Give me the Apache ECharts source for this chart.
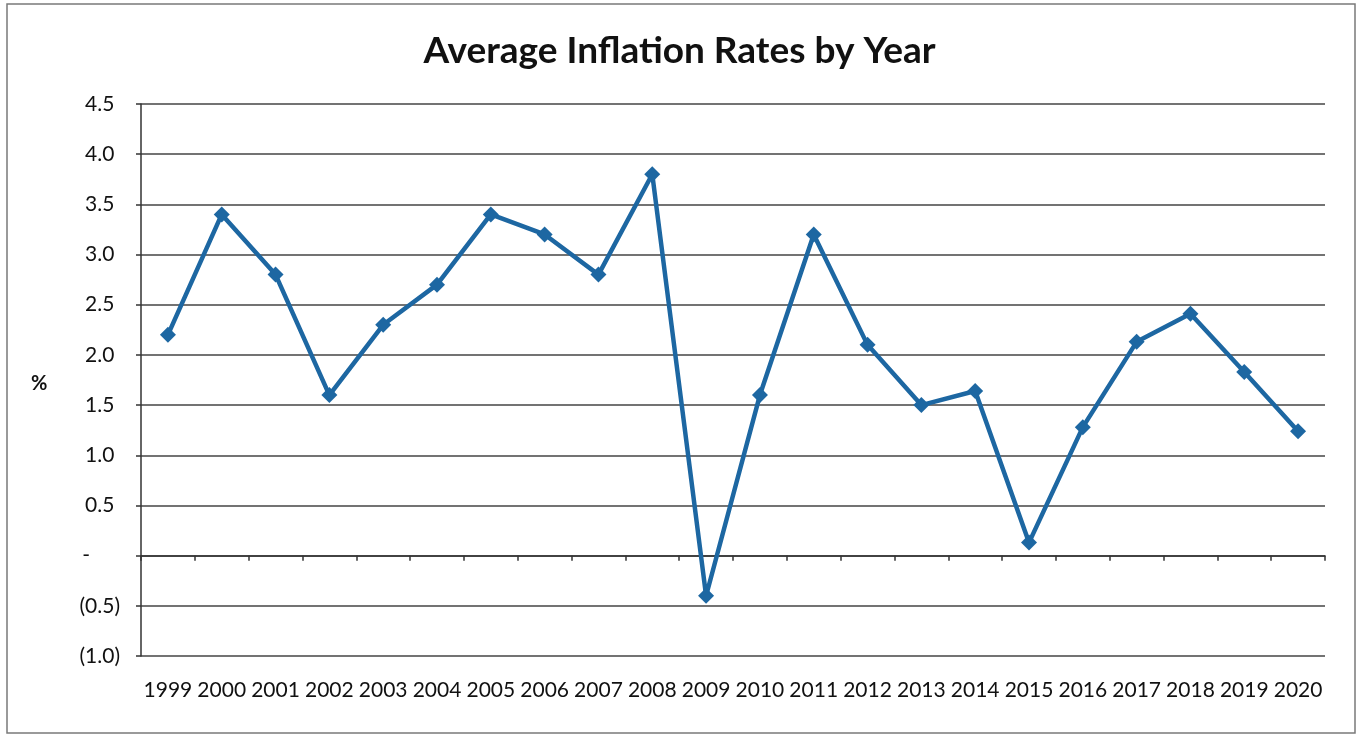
<!DOCTYPE html>
<html>
<head>
<meta charset="utf-8">
<script src="https://cdn.jsdelivr.net/npm/echarts@6/dist/echarts.min.js"></script>
<style>html,body{margin:0;padding:0;background:#fff;}#c{width:1359px;height:736px;}</style>
</head>
<body>
<div id="c"></div>
<script>
const years = ['1999','2000','2001','2002','2003','2004','2005','2006','2007','2008','2009','2010','2011','2012','2013','2014','2015','2016','2017','2018','2019','2020'];
const inflation = [2.2, 3.4, 2.8, 1.6, 2.3, 2.7, 3.4, 3.2, 2.8, 3.8, -0.4, 1.6, 3.2, 2.1, 1.5, 1.64, 0.13, 1.28, 2.13, 2.41, 1.83, 1.24];
const titleText = 'Average Inflation Rates by Year';
const yAxisName = '%';
const yMin = -1.0, yMax = 4.5, yStep = 0.5;

const chart = echarts.init(document.getElementById('c'));
const FONT = 'Lato, "Open Sans", sans-serif';
function fmtY(v) {
  const r = Math.round(v * 10) / 10;
  if (Math.abs(r) < 1e-9) return '-{h|00)}';
  if (r < 0) return '(' + Math.abs(r).toFixed(1) + ')';
  return r.toFixed(1) + '{h|)}';
}
chart.setOption({
  animation: false,
  backgroundColor: '#fff',
  title: {
    text: titleText, left: 'center', top: 28,
    textStyle: { fontFamily: FONT, fontSize: 37, fontWeight: 'bold', color: '#111' }
  },
  graphic: [
    { type: 'rect', shape: { x: 7, y: 4, width: 1348, height: 729 },
      style: { fill: 'none', stroke: '#7a7a7a', lineWidth: 1.5 }, silent: true },
    { type: 'text', left: 31, top: 374,
      style: { text: yAxisName, font: 'bold 20px ' + FONT, fill: '#111' } }
  ],
  grid: { left: 141, right: 34, top: 104, bottom: 80 },
  xAxis: [
    {
      type: 'category', data: years, boundaryGap: true,
      axisLine: { onZero: true, lineStyle: { color: '#333', width: 1.5 } },
      axisTick: { show: true, inside: false, length: 5, alignWithLabel: false, lineStyle: { color: '#333', width: 1.5 } },
      axisLabel: { show: false },
      splitLine: { show: false }
    },
    {
      type: 'category', data: years, boundaryGap: true, position: 'bottom',
      axisLine: { show: false, onZero: false },
      axisTick: { show: false },
      axisLabel: { show: true, margin: 24, fontFamily: FONT, fontSize: 21, color: '#111', interval: 0 },
      splitLine: { show: false }
    }
  ],
  yAxis: {
    type: 'value', min: yMin, max: yMax, interval: yStep,
    axisLine: { show: true, lineStyle: { color: '#333', width: 1.5 } },
    axisTick: { show: true, length: 5, lineStyle: { color: '#333', width: 1.5 } },
    axisLabel: {
      margin: 21, fontFamily: FONT, fontSize: 21, color: '#111',
      formatter: fmtY,
      rich: { h: { fontFamily: FONT, fontSize: 21, color: 'rgba(0,0,0,0)' } }
    },
    splitLine: { show: true, lineStyle: { color: '#444', width: 1.5 } }
  },
  series: [{
    type: 'line', data: inflation, xAxisIndex: 0,
    symbol: 'diamond', symbolSize: 16,
    lineStyle: { color: '#1d67a2', width: 4.5 },
    itemStyle: { color: '#1d67a2' }
  }]
});
</script>
</body>
</html>
